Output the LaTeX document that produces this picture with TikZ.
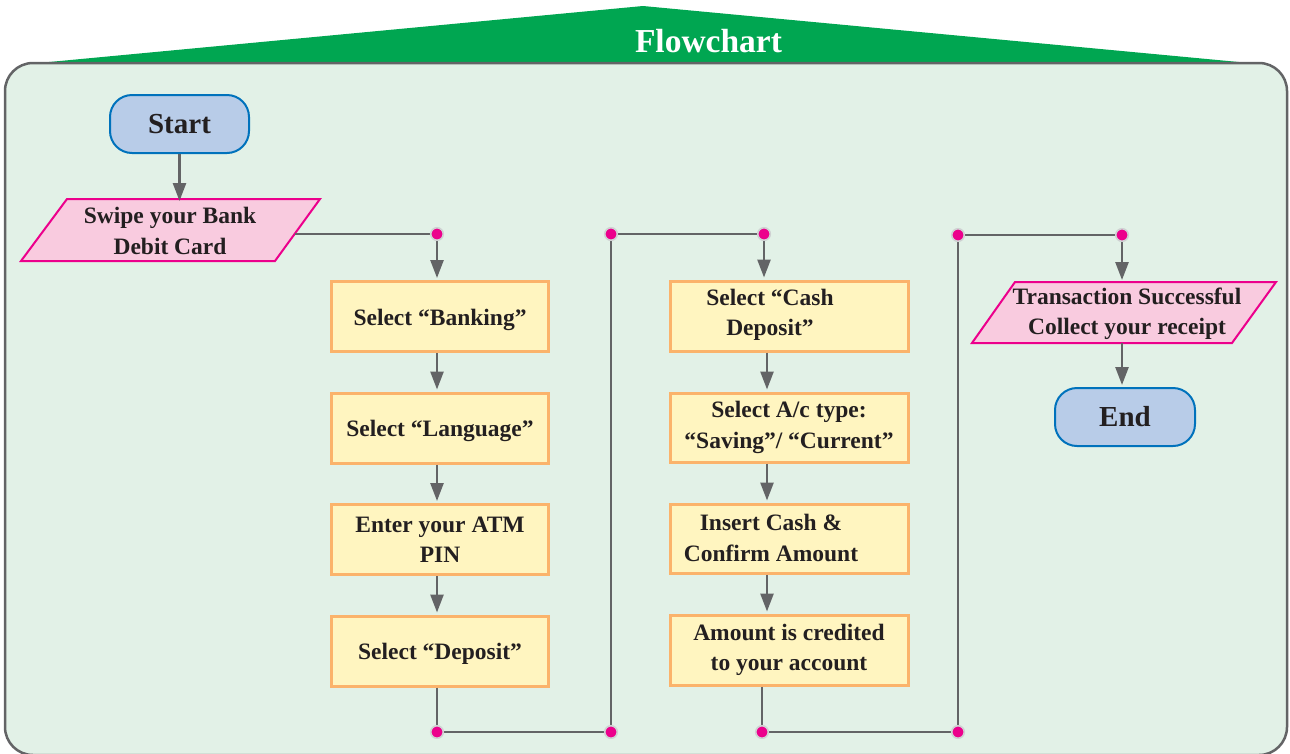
\documentclass[tikz,border=0pt]{standalone}
\usepackage{fontspec}
\setmainfont{Liberation Serif}
\usetikzlibrary{arrows.meta}
\definecolor{bannergreen}{HTML}{00A651}
\definecolor{panelfill}{HTML}{E2F1E7}
\definecolor{linegray}{HTML}{636466}
\definecolor{startfill}{HTML}{B8CCE8}
\definecolor{startline}{HTML}{0072BC}
\definecolor{parafill}{HTML}{F9CBDF}
\definecolor{paraline}{HTML}{EC008C}
\definecolor{boxfill}{HTML}{FFF5C0}
\definecolor{boxline}{HTML}{FBB36B}
\definecolor{dotring}{HTML}{CFD1D2}
\definecolor{txtcol}{HTML}{231F20}
\tikzset{
  txt/.style={align=center, text=txtcol, inner sep=0pt, font=\fontsize{23.5}{30.5}\selectfont\bfseries},
  terminal/.style={draw=startline, fill=startfill, line width=2pt, rounded corners=22pt,
     minimum width=139pt, minimum height=58pt, text=txtcol, font=\fontsize{29}{30}\selectfont\bfseries},
  stepbox/.style={draw=boxline, fill=boxfill, line width=3pt, minimum height=70pt,
     align=center, text=txtcol, font=\fontsize{23.5}{30.5}\selectfont\bfseries},
  oneline/.style={text height=20.5pt, text depth=3.5pt},
  leftbox/.style={stepbox, minimum width=217pt},
  rightbox/.style={stepbox, minimum width=238pt},
  para/.style={draw=paraline, fill=parafill, line width=2pt, line join=miter},
  conn/.style={draw=linegray, line width=2.6pt},
  arr/.style={conn, -{Triangle[length=18pt,width=13pt]}, shorten >=2pt},
  joint/.style={circle, inner sep=0pt, minimum size=12.5pt, fill=paraline, draw=dotring, line width=1.6pt},
}
\begin{document}
\begin{tikzpicture}[x=1pt,y=-1pt]
\useasboundingbox (0,0) rectangle (1290,753);
% banner
\fill[bannergreen] (28,64) -- (643,6) -- (1260,64) -- cycle;
% panel
\draw[draw=linegray, fill=panelfill, line width=2.5pt, rounded corners=28pt]
  (5,63) rectangle (1287,755);
\node[text=white, font=\fontsize{33.5}{35}\selectfont\bfseries, anchor=base] (title) at (708.5,52) {Flowchart};

% start / end
\node[terminal] (start) at (179.5,124) {Start};
\node[terminal, minimum width=140pt] (end) at (1125,417) {End};

% parallelograms
\draw[para] (67,199) -- (320,199) -- (275,261) -- (21,261) -- cycle;
\node[txt] (swipe) at (170,231) {Swipe your Bank\\Debit Card};
\coordinate (swtop) at (179.5,199);
\coordinate (swR) at (295,234);

\draw[para] (1015,282) -- (1276,282) -- (1232,343) -- (972,343) -- cycle;
\node[txt] (trans) at (1127,314) {Transaction Successful\\Collect your receipt};
\coordinate (trtop) at (1122,282);
\coordinate (trbot) at (1122,343);

% left column boxes
\node[leftbox, oneline] (b1) at (440,316.5) {Select “Banking”};
\node[leftbox, oneline] (b2) at (440,428) {Select “Language”};
\node[leftbox] (b3) at (440,539.5) {Enter your ATM\\PIN};
\node[leftbox, oneline] (b4) at (440,651) {Select “Deposit”};

% right column boxes
\node[rightbox] (bA) at (789,316) {};
\node[txt] (tA) at (770,315) {Select “Cash\\Deposit”};
\node[rightbox, minimum height=69pt] (bB) at (789,427.5) {Select A/c type:\\“Saving”/ “Current”};
\node[rightbox, minimum height=69pt] (bC) at (789,538.5) {};
\node[txt] (tC) at (771,538) {Insert Cash \&\\Confirm Amount};
\node[rightbox] (bD) at (789,650) {Amount is credited\\to your account};

% joint positions
\coordinate (p1) at (437,234);
\coordinate (p2) at (437,732);
\coordinate (p3) at (611,732);
\coordinate (p4) at (611,234);
\coordinate (p5) at (764,234);
\coordinate (p6) at (762,732);
\coordinate (p7) at (958,732);
\coordinate (p8) at (958,235);
\coordinate (p9) at (1122,235);
\coordinate (cx) at (767,0);

% connectors
\draw[arr] (start.south) -- ([yshift=-4pt]swtop);
\draw[conn] (swR) -- (p1);
\draw[arr, shorten <=7pt] (p1) -- (p1 |- b1.north);
\draw[arr] (b1.south -| p1) -- (b2.north -| p1);
\draw[arr] (b2.south -| p1) -- (b3.north -| p1);
\draw[arr] (b3.south -| p1) -- (b4.north -| p1);
\draw[conn] (b4.south -| p2) -- (p2) -- (p3) -- (p4) -- (p5);
\draw[arr, shorten <=7pt] (p5) -- (p5 |- bA.north);
\draw[arr] (bA.south -| cx) -- (bB.north -| cx);
\draw[arr] (bB.south -| cx) -- (bC.north -| cx);
\draw[arr] (bC.south -| cx) -- (bD.north -| cx);
\draw[conn] (bD.south -| p6) -- (p6) -- (p7) -- (p8) -- (p9);
\draw[arr, shorten <=7pt] (p9) -- (trtop);
\draw[arr] (trbot) -- (trbot |- end.north);

% joints on top
\node[joint] (d1) at (p1) {};
\node[joint] (d2) at (p2) {};
\node[joint] (d3) at (p3) {};
\node[joint] (d4) at (p4) {};
\node[joint] (d5) at (p5) {};
\node[joint] (d6) at (p6) {};
\node[joint] (d7) at (p7) {};
\node[joint] (d8) at (p8) {};
\node[joint] (d9) at (p9) {};
\end{tikzpicture}
\end{document}
